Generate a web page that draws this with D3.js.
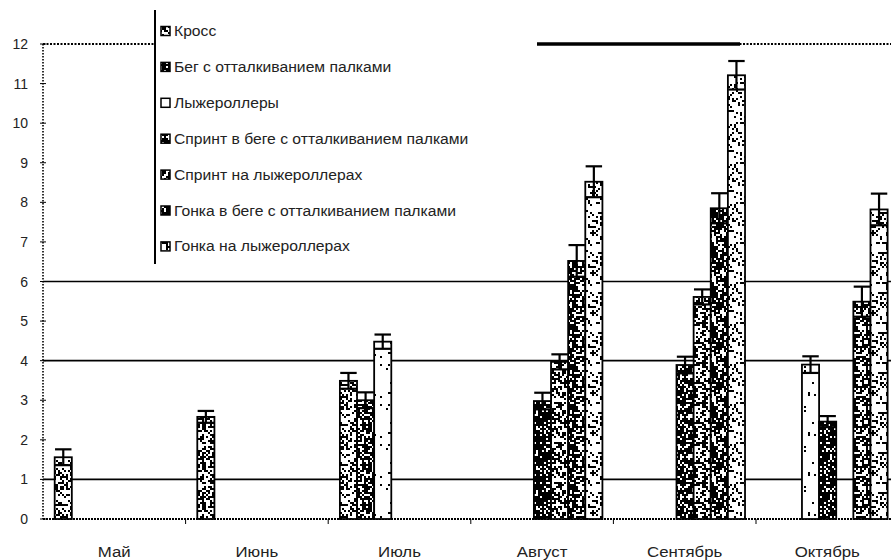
<!DOCTYPE html>
<html><head><meta charset="utf-8">
<script src="https://cdn.jsdelivr.net/npm/d3@7"></script>
<style>
html,body{margin:0;padding:0;background:#fff;}
svg{display:block;font-family:"Liberation Sans",Arial,sans-serif;}
</style></head>
<body>
<svg id="c" width="891" height="560"></svg>
<script>
// ---- data ----
const months = ["Май","Июнь","Июль","Август","Сентябрь","Октябрь"];
const seriesNames = [
  "Кросс",
  "Бег с отталкиванием палками",
  "Лыжероллеры",
  "Спринт в беге с отталкиванием палками",
  "Спринт на лыжероллерах",
  "Гонка в беге с отталкиванием палками",
  "Гонка на лыжероллерах"
];
const kross      = [1.56, 2.58, 3.49, null, null, null];
const beg        = [null, null, 3.0,  null, null, null];
const rollers    = [null, null, 4.48, null, null, 3.9];
const sprintBeg  = [null, null, null, 2.98, 3.89, 2.46];
const sprintRol  = [null, null, null, 3.97, 5.61, null];
const gonkaBeg   = [null, null, null, 6.52, 7.85, 5.49];
const gonkaRol   = [null, null, null, 8.52, 11.21, 7.82];
const krossErr     = [0.2, 0.15, 0.2, null, null, null];
const begErr       = [null, null, 0.2, null, null, null];
const rollersErr   = [null, null, 0.18, null, null, 0.21];
const sprintBegErr = [null, null, null, 0.21, 0.21, 0.14];
const sprintRolErr = [null, null, null, 0.19, 0.19, null];
const gonkaBegErr  = [null, null, null, 0.4, 0.38, 0.38];
const gonkaRolErr  = [null, null, null, 0.39, 0.36, 0.4];
const yTicks = [0,1,2,3,4,5,6,7,8,9,10,11,12];
const gridValues = [1,4,6];

const values = [kross, beg, rollers, sprintBeg, sprintRol, gonkaBeg, gonkaRol];
const errors = [krossErr, begErr, rollersErr, sprintBegErr, sprintRolErr, gonkaBegErr, gonkaRolErr];
// texture densities (style only)
const densities = [0.42, 0.62, 0.04, 0.75, 0.47, 0.62, 0.22];

const svg = d3.select("#c");
const W = 891, H = 560;
const m = {l:43, t:44, b:519};
const x0 = d3.scaleBand().domain(months).range([m.l, m.l + 142.6*6]).padding(0);
const bw = x0.bandwidth();
const x1 = d3.scaleBand().domain(d3.range(seriesNames.length)).range([bw*0.082, bw*0.923]).padding(0);
const y = d3.scaleLinear().domain([0,12]).range([m.b, m.t]);

// ---- patterns (deterministic texture) ----
const defs = svg.append("defs");
const cell = 2, n = 20;
densities.forEach((d, s) => {
  const p = defs.append("pattern").attr("id","p"+s).attr("patternUnits","userSpaceOnUse")
    .attr("width", cell*n).attr("height", cell*n);
  p.append("rect").attr("width",cell*n).attr("height",cell*n).attr("fill","#fff");
  for (let i=0;i<n;i++) for (let j=0;j<n;j++) {
    let h = Math.imul(i+1, 73856093) ^ Math.imul(j+7, 19349663) ^ Math.imul(s+3, 83492791);
    h = Math.imul(h ^ (h>>>13), 1274126177); h = (h ^ (h>>>16))>>>0;
    if ((h % 1000)/1000 < d) p.append("rect").attr("x",i*cell).attr("y",j*cell)
      .attr("width",cell).attr("height",cell).attr("fill","#000");
  }
});

// ---- top line (y=12) ----
svg.append("line").attr("x1",m.l).attr("x2",W).attr("y1",y(12)).attr("y2",y(12))
  .attr("stroke","#000").attr("stroke-width",2).attr("stroke-dasharray","2,1.5");

// ---- gridlines ----
svg.selectAll("line.grid").data(gridValues).join("line").attr("class","grid")
  .attr("x1",m.l).attr("x2",W).attr("y1",d=>y(d)).attr("y2",d=>y(d))
  .attr("stroke","#000").attr("stroke-width",1.6);

// ---- y axis ----
svg.append("line").attr("x1",m.l).attr("x2",m.l).attr("y1",y(12)).attr("y2",y(0))
  .attr("stroke","#000").attr("stroke-width",1.6).attr("stroke-dasharray","1.5,1.5");
svg.selectAll("line.yt").data(yTicks).join("line").attr("class","yt")
  .attr("x1",m.l-3).attr("x2",m.l+3).attr("y1",d=>y(d)).attr("y2",d=>y(d))
  .attr("stroke","#000").attr("stroke-width",1);
svg.selectAll("text.yl").data(yTicks).join("text").attr("class","yl")
  .attr("x",28).attr("y",d=>y(d)).attr("dy","0.36em").attr("text-anchor","end")
  .attr("font-size",14).attr("fill","#222").text(d=>d);

// ---- baseline ----
svg.append("line").attr("x1",m.l).attr("x2",W).attr("y1",y(0)).attr("y2",y(0))
  .attr("stroke","#000").attr("stroke-width",1.8).attr("stroke-dasharray","2,1");
svg.selectAll("line.xt").data(months.slice(1)).join("line").attr("class","xt")
  .attr("x1",d=>x0(d)).attr("x2",d=>x0(d)).attr("y1",y(0)).attr("y2",y(0)+5)
  .attr("stroke","#000").attr("stroke-width",1);

// ---- bars ----
const flat = [];
values.forEach((arr,s)=>arr.forEach((v,i)=>{ if(v!=null) flat.push({s, m:months[i], v, e:errors[s][i]}); }));
const g = svg.append("g");
g.selectAll("rect.bar").data(flat).join("rect").attr("class","bar")
  .attr("x",d=>x0(d.m)+x1(d.s)).attr("width",x1.bandwidth())
  .attr("y",d=>y(d.v)).attr("height",d=>y(0)-y(d.v))
  .attr("fill",d=>"url(#p"+d.s+")").attr("stroke","#000").attr("stroke-width",1.8);
// error bars
const eb = g.selectAll("g.eb").data(flat).join("g").attr("class","eb")
  .attr("stroke","#000").attr("stroke-width",2.2);
const cx = d=>x0(d.m)+x1(d.s)+x1.bandwidth()/2;
const hw = x1.bandwidth()*0.48;
eb.append("line").attr("x1",cx).attr("x2",cx).attr("y1",d=>y(d.v+d.e)).attr("y2",d=>y(d.v-d.e));
eb.append("line").attr("x1",d=>cx(d)-hw).attr("x2",d=>cx(d)+hw).attr("y1",d=>y(d.v+d.e)).attr("y2",d=>y(d.v+d.e));
eb.append("line").attr("x1",d=>cx(d)-hw).attr("x2",d=>cx(d)+hw).attr("y1",d=>y(d.v-d.e)).attr("y2",d=>y(d.v-d.e));

// ---- x labels ----
svg.selectAll("text.xl").data(months).join("text").attr("class","xl")
  .attr("x",d=>x0(d)+bw/2).attr("y",552).attr("dy","0.36em").attr("text-anchor","middle")
  .attr("font-size",14).attr("fill","#222").text(d=>d)
  .each(function(){ const w=this.getComputedTextLength(); d3.select(this).attr("textLength",w*1.2).attr("lengthAdjust","spacingAndGlyphs"); });

// ---- legend ----
const lg = svg.append("g");
lg.append("rect").attr("x",155).attr("y",10).attr("width",382).attr("height",254).attr("fill","#fff");
lg.append("line").attr("x1",155).attr("x2",155).attr("y1",10).attr("y2",264)
  .attr("stroke","#000").attr("stroke-width",2);
svg.append("line").attr("x1",537).attr("x2",740).attr("y1",y(12)).attr("y2",y(12))
  .attr("stroke","#000").attr("stroke-width",3.5);
const ly = i => 31 + i*35.9;
lg.selectAll("rect.sw").data(seriesNames).join("rect").attr("class","sw")
  .attr("x",161).attr("y",(d,i)=>ly(i)-4.5).attr("width",9).attr("height",9)
  .attr("fill",(d,i)=>"url(#p"+i+")").attr("stroke","#000").attr("stroke-width",1.5);
lg.selectAll("text.lt").data(seriesNames).join("text").attr("class","lt")
  .attr("x",174).attr("y",(d,i)=>ly(i)).attr("dy","0.36em").attr("font-size",14).attr("fill","#222").text(d=>d)
  .each(function(){ const w=this.getComputedTextLength(); d3.select(this).attr("textLength",w*1.12).attr("lengthAdjust","spacingAndGlyphs"); });
</script>
</body></html>
